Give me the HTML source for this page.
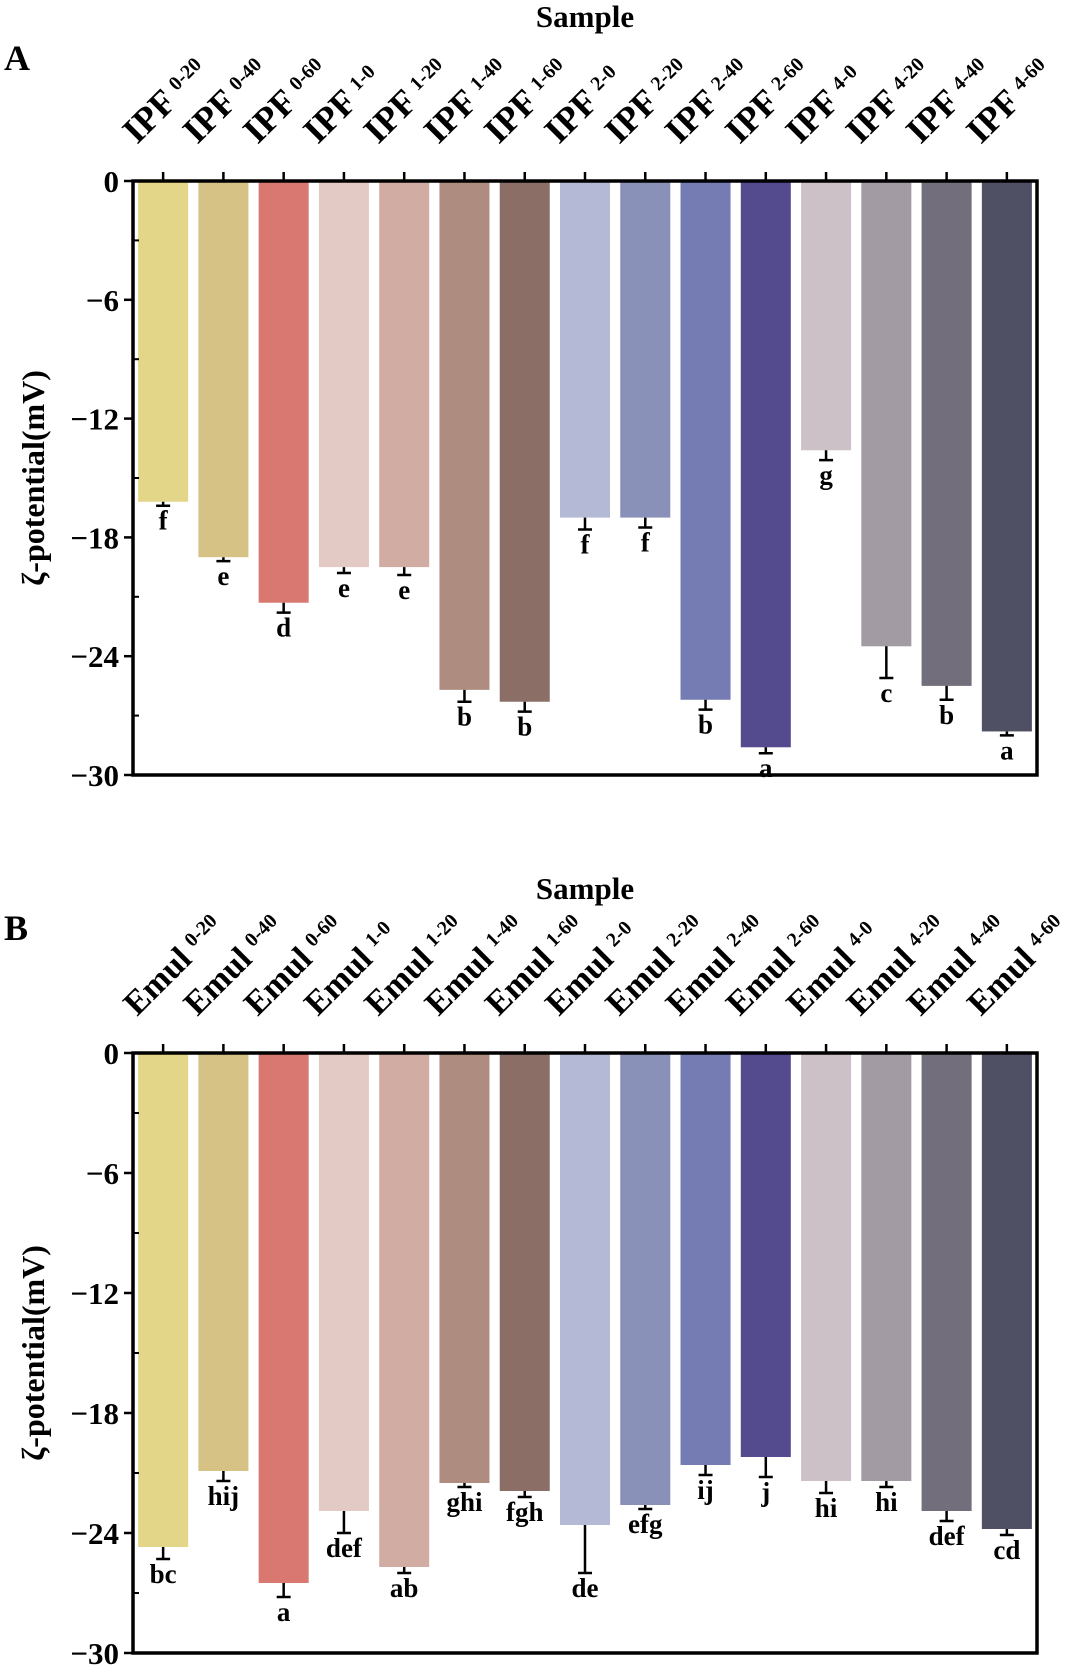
<!DOCTYPE html>
<html><head><meta charset="utf-8"><style>
body{margin:0;background:#fff}
svg{display:block;font-family:"Liberation Serif",serif;font-weight:bold}
</style></head><body>
<svg id="c" width="1080" height="1671" viewBox="0 0 1080 1671"></svg>
<script>
const categories=["0-20","0-40","0-60","1-0","1-20","1-40","1-60","2-0","2-20","2-40","2-60","4-0","4-20","4-40","4-60"];
const valuesA=[-16.2,-19.0,-21.3,-19.5,-19.5,-25.7,-26.3,-17.0,-17.0,-26.2,-28.6,-13.6,-23.5,-25.5,-27.8];
const errorsA=[0.2,0.2,0.5,0.3,0.4,0.6,0.5,0.6,0.5,0.5,0.3,0.5,1.6,0.7,0.2];
const lettersA=["f","e","d","e","e","b","b","f","f","b","a","g","c","b","a"];
const valuesB=[-24.7,-20.9,-26.5,-22.9,-25.7,-21.5,-21.9,-23.6,-22.6,-20.6,-20.2,-21.4,-21.4,-22.9,-23.8];
const errorsB=[0.6,0.5,0.7,1.1,0.3,0.2,0.3,2.4,0.2,0.5,1.0,0.6,0.3,0.5,0.3];
const lettersB=["bc","hij","a","def","ab","ghi","fgh","de","efg","ij","j","hi","hi","def","cd"];
const yTicks=[0,-6,-12,-18,-24,-30];
const colors=["#e4d689","#d6c285","#d97870","#e4cac4","#d0aca2","#ae8c80","#8b6f67","#b4b9d6","#8a91b9","#747cb3","#544a8e","#cbc1c7","#a29ba4","#736e7c","#4f5064"];
const svg=document.getElementById('c');
const NS="http://www.w3.org/2000/svg";
function mk(t,a,p){const e=document.createElementNS(NS,t);for(const k in a)e.setAttribute(k,a[k]);(p||svg).appendChild(e);return e;}
function panel(id,top,bottom,prefix,vals,errs,lets,titleY,letterY,panelLetter){
  const g=mk('g',{});
  
  
  const L=133,R=1037;
  const y=v=>top+(v/-30)*(bottom-top);
  const band=(R-L)/categories.length;
  const x=i=>L+band*(i+0.5);
  const t=mk('text',{x:585,y:titleY,'font-size':31,'text-anchor':'middle'},g);t.textContent='Sample';
  
  const pl=mk('text',{x:4,y:letterY,'font-size':36},g);pl.textContent=panelLetter;
  
  vals.forEach((v,i)=>{
    const cx=x(i),w=band*0.83;
    const r=mk('rect',{x:cx-w/2,y:top,width:w,height:y(v)-top,fill:colors[i]},g);
    
    
    const ye=y(v-errs[i]);
    const eb=mk('path',{d:`M${cx},${y(v)}V${ye}M${cx-7},${ye}H${cx+7}`,stroke:'#000','stroke-width':2.5,fill:'none'},g);
    
    const lt=mk('text',{x:cx,y:ye+24,'font-size':27,'text-anchor':'middle'},g);lt.textContent=lets[i];
    
    const tk=mk('line',{x1:cx,x2:cx,y1:top,y2:top-9,stroke:'#000','stroke-width':2.5},g);
    
    const lb=mk('text',{x:0,y:0,'font-size':prefix==='IPF'?36:34,transform:`translate(${cx-26},${top-36}) rotate(-45)`},g);
    
    const s1=mk('tspan',{},lb);s1.textContent=prefix+' ';
    const s2=mk('tspan',{'font-size':20,dy:-10},lb);s2.textContent=categories[i];
  });
  yTicks.forEach(v=>{
    const yy=y(v);
    const tk=mk('line',{x1:L-9,x2:L,y1:yy,y2:yy,stroke:'#000','stroke-width':2.5},g);
    
    const tl=mk('text',{x:L-14,y:yy+11,'font-size':31,'text-anchor':'end'},g);tl.textContent=v===0?'0':'\u2212'+Math.abs(v);
    
    if(v>-30){const m=y(v-3);mk('line',{x1:L,x2:L+6,y1:m,y2:m,stroke:'#000','stroke-width':2},g);}
  });
  const ax=mk('rect',{x:L,y:top,width:R-L,height:bottom-top,fill:'none',stroke:'#000','stroke-width':3.5},g);
  
  const yt=mk('text',{x:0,y:0,'font-size':32,'text-anchor':'middle',transform:`translate(44,${(top+bottom)/2}) rotate(-90)`},g);
  yt.textContent='\u03B6-potential(mV)';
  
}
panel('a',181,775,'IPF',valuesA,errorsA,lettersA,27,70,'A');
panel('b',1053,1653,'Emul',valuesB,errorsB,lettersB,899,940,'B');
</script>
</body></html>
